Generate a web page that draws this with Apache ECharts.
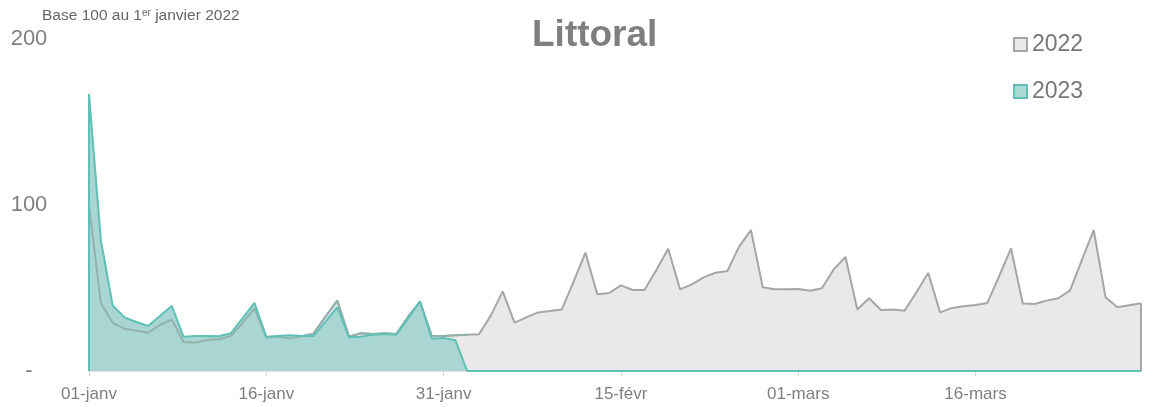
<!DOCTYPE html>
<html>
<head>
<meta charset="utf-8">
<title>Littoral</title>
<script src="https://cdn.jsdelivr.net/npm/echarts@6/dist/echarts.min.js"></script>
<style>
  html, body { margin: 0; padding: 0; background: #ffffff; }
  #chart { width: 1153px; height: 407px; }
</style>
</head>
<body>
<div id="chart"></div>
<script>
// day labels (leap-year calendar, as in the source workbook)
var monthNames = ["janv", "févr", "mars"];
var monthDays = [31, 29, 30];

// index 100 = 1er janvier 2022
var values2022 = [
  100, 41, 29, 25.5, 24.3, 23.1, 27.7, 31, 17.5, 17.1,
  18.7, 19.1, 21, 29, 37.6, 20, 20.8, 19.5, 21, 22.5,
  32.7, 42.4, 20.7, 22.7, 22.3, 22.7, 22.3, 32.7, 41.7, 21.1,
  21.1, 21.5, 21.9, 22.1, 33.5, 48, 29.1, 32.3, 35.3, 36.1,
  37.1, 53.8, 71.3, 46.2, 47, 51.6, 48.8, 48.8, 60.8, 73.7,
  49.2, 52.2, 56.4, 59.2, 60.2, 74.9, 84.9, 50.4, 49.2, 49.2,
  49.4, 48.4, 49.8, 61.2, 68.7, 37.1, 43.8, 36.7, 37.1, 36.3,
  47.4, 59, 35.3, 38, 39, 39.8, 41, 57.2, 73.9, 40.6,
  40.4, 42.4, 43.8, 48.6, 66.9, 84.9, 44.4, 38.4, 39.6, 40.8
];

var values2023 = [
  166.9, 78.9, 39.6, 32.3, 29.5, 27.1, 33.1, 39.2, 20.7, 21.1,
  21.1, 20.9, 22.7, 31.9, 41.1, 20.7, 21.1, 21.5, 21.1, 21.1,
  29.7, 38.4, 20.3, 20.7, 21.9, 22.3, 21.9, 31.7, 42, 19.5,
  19.9, 18.5, 0, 0, 0, 0, 0, 0, 0, 0,
  0, 0, 0, 0, 0, 0, 0, 0, 0, 0,
  0, 0, 0, 0, 0, 0, 0, 0, 0, 0,
  0, 0, 0, 0, 0, 0, 0, 0, 0, 0,
  0, 0, 0, 0, 0, 0, 0, 0, 0, 0,
  0, 0, 0, 0, 0, 0, 0, 0, 0, 0
];

var categories = [];
for (var m = 0; m < monthNames.length; m++) {
  for (var d = 1; d <= monthDays[m]; d++) {
    categories.push((d < 10 ? "0" + d : "" + d) + "-" + monthNames[m]);
  }
}

var font = "Liberation Sans, Arial, sans-serif";
var last = values2022.length - 1;
// part of the 2022 outline that shows through the 2023 area
var overlap2022 = values2022.slice(0, 33);

var chart = echarts.init(document.getElementById("chart"));
chart.setOption({
  animation: false,
  backgroundColor: "#ffffff",
  textStyle: { fontFamily: font },
  title: [
    {
      text: "Littoral",
      left: 532,
      top: 17,
      padding: 0,
      textStyle: { fontSize: 37, fontWeight: "bold", color: "#7f7f7f", fontFamily: font }
    },
    {
      text: "Base 100 au 1{sup|er} janvier 2022",
      left: 42,
      top: 8,
      padding: 0,
      textStyle: {
        fontSize: 15.5,
        fontWeight: "normal",
        color: "#666666",
        fontFamily: font,
        rich: {
          sup: { fontSize: 10, color: "#666666", verticalAlign: "top", fontFamily: font }
        }
      }
    }
  ],
  legend: {
    orient: "vertical",
    left: 1013,
    top: 33,
    padding: 0,
    itemWidth: 13,
    itemHeight: 13,
    itemGap: 24,
    textStyle: { fontSize: 23, color: "#777777", fontFamily: font },
    data: [
      { name: "2022", icon: "rect", itemStyle: { color: "#e9e9e9", borderColor: "#a6a6a6", borderWidth: 2 } },
      { name: "2023", icon: "rect", itemStyle: { color: "#aad8d3", borderColor: "#5fc1b6", borderWidth: 2 } }
    ]
  },
  grid: { left: 89, right: 12, top: 39, bottom: 36 },
  xAxis: {
    type: "category",
    data: categories,
    boundaryGap: false,
    axisLine: { lineStyle: { color: "#d9d9d9", width: 1.5 } },
    axisTick: { show: true, interval: 14, length: 5, lineStyle: { color: "#d9d9d9" } },
    axisLabel: { interval: 14, fontSize: 17, color: "#7f7f7f", margin: 15, fontFamily: font },
    splitLine: { show: false }
  },
  yAxis: {
    type: "value",
    min: 0,
    max: 200,
    interval: 100,
    axisLine: { show: false },
    axisTick: { show: false },
    splitLine: { show: false },
    axisLabel: {
      fontSize: 22,
      color: "#808080",
      align: "center",
      margin: 60,
      fontFamily: font,
      formatter: function(v) {
        return v === 0 ? "-" : v;
      }
    }
  },
  series: [
    {
      name: "2022",
      type: "line",
      data: values2022,
      symbol: "none",
      z: 2,
      lineStyle: { color: "#a6a6a6", width: 2 },
      itemStyle: { color: "#a6a6a6" },
      areaStyle: { color: "#e9e9e9", opacity: 1 },
      markLine: {
        silent: true,
        symbol: "none",
        label: { show: false },
        lineStyle: { color: "#a6a6a6", width: 2, type: "solid" },
        data: [[{ coord: [last, 0] }, { coord: [last, values2022[last]] }]]
      }
    },
    {
      name: "2023",
      type: "line",
      data: values2023,
      symbol: "none",
      z: 3,
      lineStyle: { width: 0 },
      itemStyle: { color: "#5fc1b6" },
      areaStyle: { color: "#a9d6d2", opacity: 1 }
    },
    {
      name: "2022 outline",
      type: "line",
      data: overlap2022,
      symbol: "none",
      silent: true,
      z: 4,
      lineStyle: { color: "#92b1ad", width: 2 }
    },
    {
      name: "2023 outline",
      type: "line",
      data: values2023,
      symbol: "none",
      silent: true,
      z: 5,
      lineStyle: { color: "#5fc1b6", width: 2 },
      markLine: {
        silent: true,
        symbol: "none",
        label: { show: false },
        lineStyle: { color: "#5fc1b6", width: 2, type: "solid" },
        data: [[{ coord: [0, 0] }, { coord: [0, values2023[0]] }]]
      }
    }
  ]
});
</script>
</body>
</html>
